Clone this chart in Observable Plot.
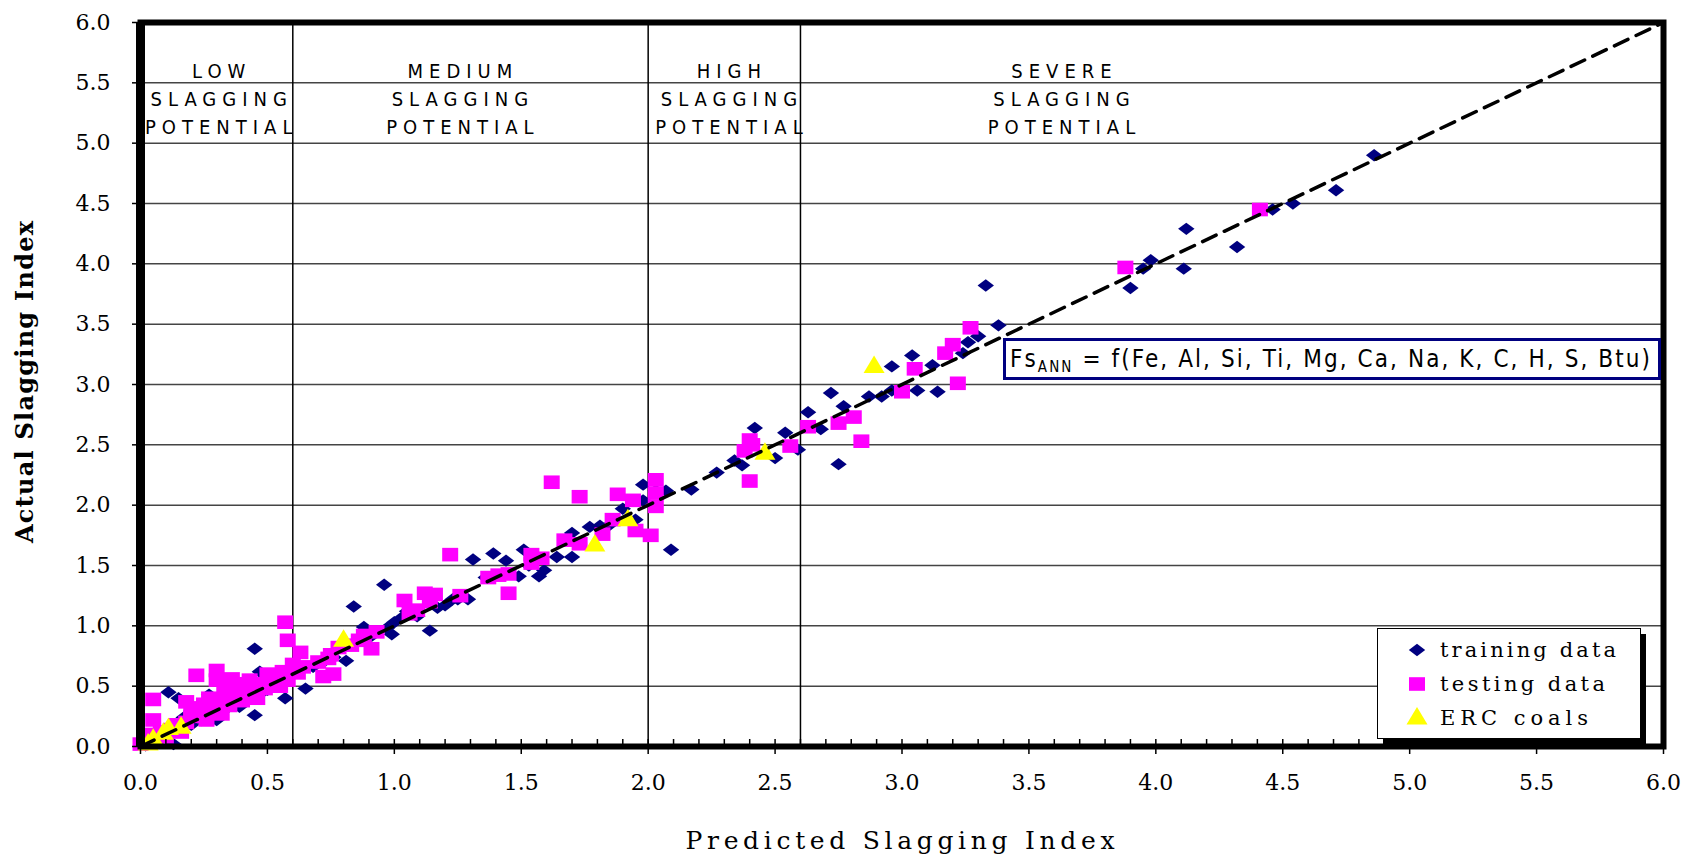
<!DOCTYPE html>
<html>
<head>
<meta charset="utf-8">
<script src="https://cdn.jsdelivr.net/npm/d3@7"></script>
<script src="https://cdn.jsdelivr.net/npm/@observablehq/plot@0.6"></script>
<style>
  html, body { margin: 0; padding: 0; background: #fff; }
  #wrap { position: relative; width: 1694px; height: 859px; overflow: hidden; }
  #wrap > svg { position: absolute; left: 0; top: 0; }
  g[font-family^="'Liberation Sans Narrow'"] text { letter-spacing: 6px; }
</style>
</head>
<body>
<div id="wrap"></div>
<script>
// ---------- data ----------
const xTicks = [0, 0.5, 1, 1.5, 2, 2.5, 3, 3.5, 4, 4.5, 5, 5.5, 6];
const yTicks = [0, 0.5, 1, 1.5, 2, 2.5, 3, 3.5, 4, 4.5, 5, 5.5, 6];
const xMinorTicks = d3.range(0, 61).map(i => i / 10);
const regionBounds = [0.6, 2.0, 2.6];
const regionNames = ["LOW", "MEDIUM", "HIGH", "SEVERE"];
const regionLabelX = [0.32, 1.27, 2.33, 3.64];
const seriesNames = ["training data", "testing data", "ERC coals"];
const seriesColors = ["#000080", "#ff00ff", "#ffff00"];
const diagonal = [0, 6];
const equationMain = "Fs";
const equationSub = "ANN";
const equationRest = " = f(Fe, Al, Si, Ti, Mg, Ca, Na, K, C, H, S, Btu)";
const xTitle = "Predicted Slagging Index";
const yTitle = "Actual Slagging Index";

const trainingData = [
  [0.02,0.01],[0.05,0.04],[0.08,0.06],[0.11,0.45],[0.15,0.40],[0.13,0.02],[0.17,0.24],
  [0.20,0.18],[0.24,0.22],[0.27,0.43],[0.28,0.27],[0.30,0.22],[0.33,0.30],[0.36,0.34],
  [0.39,0.33],[0.42,0.40],[0.45,0.26],[0.45,0.81],[0.47,0.62],[0.48,0.45],[0.50,0.47],
  [0.53,0.52],[0.55,0.58],[0.57,0.40],[0.60,0.60],[0.65,0.48],[0.68,0.66],[0.72,0.70],
  [0.76,0.74],[0.81,0.71],[0.84,1.16],[0.88,0.99],[0.90,0.90],[0.96,1.34],[0.97,0.98],
  [0.99,0.93],[1.00,1.03],[1.03,1.07],[1.05,1.12],[1.09,1.08],[1.14,0.96],[1.17,1.15],
  [1.20,1.17],[1.23,1.22],[1.25,1.22],[1.29,1.22],[1.31,1.55],[1.36,1.40],[1.39,1.60],
  [1.44,1.54],[1.49,1.41],[1.51,1.63],[1.53,1.50],[1.57,1.41],[1.59,1.46],[1.64,1.57],
  [1.70,1.57],[1.70,1.77],[1.77,1.82],[1.81,1.83],[1.85,1.84],[1.90,1.97],[1.95,1.88],
  [1.98,2.17],[1.98,2.04],[2.03,2.12],[2.07,2.12],[2.09,1.63],[2.17,2.13],[2.27,2.27],
  [2.34,2.37],[2.37,2.33],[2.42,2.64],[2.50,2.39],[2.54,2.60],[2.59,2.46],[2.63,2.77],
  [2.68,2.63],[2.72,2.93],[2.75,2.34],[2.77,2.82],[2.87,2.90],[2.92,2.90],[2.96,3.15],
  [2.96,2.95],[3.04,3.24],[3.06,2.95],[3.12,3.16],[3.14,2.94],[3.24,3.26],[3.26,3.35],
  [3.30,3.40],[3.33,3.82],[3.38,3.49],[3.90,3.80],[3.95,3.96],[3.98,4.03],[4.11,3.96],
  [4.12,4.29],[4.32,4.14],[4.46,4.45],[4.54,4.50],[4.71,4.61],[4.86,4.90]
];

const testingData = [
  [0.00,0.02],[0.02,0.05],[0.05,0.39],[0.05,0.22],[0.04,0.10],[0.08,0.12],[0.10,0.08],
  [0.12,0.14],[0.14,0.18],[0.16,0.12],[0.18,0.37],[0.18,0.20],[0.20,0.25],[0.22,0.59],
  [0.22,0.28],[0.24,0.32],[0.25,0.35],[0.26,0.22],[0.28,0.30],[0.30,0.63],[0.30,0.55],
  [0.31,0.38],[0.32,0.27],[0.34,0.42],[0.35,0.34],[0.36,0.56],[0.38,0.45],[0.40,0.38],
  [0.41,0.50],[0.43,0.55],[0.44,0.44],[0.46,0.40],[0.47,0.52],[0.49,0.48],[0.51,0.56],
  [0.53,0.50],[0.54,0.59],[0.56,0.62],[0.57,1.03],[0.58,0.88],[0.58,0.55],[0.60,0.68],
  [0.62,0.61],[0.63,0.78],[0.64,0.66],[0.70,0.70],[0.72,0.58],[0.74,0.73],[0.75,0.76],
  [0.76,0.60],[0.78,0.82],[0.83,0.84],[0.86,0.88],[0.88,0.92],[0.91,0.81],[0.93,0.95],
  [0.27,0.40],[0.33,0.47],[0.39,0.52],[0.45,0.49],[0.50,0.60],[0.55,0.50],[0.20,0.31],
  [1.04,1.21],[1.06,1.10],[1.09,1.13],[1.12,1.27],[1.14,1.20],[1.16,1.26],[1.22,1.59],
  [1.26,1.25],[1.37,1.40],[1.41,1.42],[1.45,1.27],[1.45,1.43],[1.54,1.59],[1.54,1.52],
  [1.58,1.56],[1.62,2.19],[1.67,1.71],[1.73,1.68],[1.73,2.07],[1.82,1.76],[1.86,1.88],
  [1.88,2.09],[1.94,2.04],[1.95,1.79],[2.01,1.75],[2.03,2.21],[2.03,2.10],[2.03,1.99],
  [2.40,2.54],[2.38,2.45],[2.41,2.50],[2.40,2.20],[2.56,2.49],[2.63,2.65],[2.75,2.68],
  [2.81,2.73],[2.84,2.53],[3.00,2.94],[3.05,3.13],[3.17,3.26],[3.20,3.33],[3.22,3.01],
  [3.27,3.47],[3.88,3.97],[4.41,4.45]
];

const ercData = [
  [0.03,0.02],[0.05,0.06],[0.09,0.11],[0.11,0.15],[0.16,0.16],
  [0.80,0.88],[1.79,1.67],[1.92,1.88],[2.46,2.43],[2.89,3.15]
];

// ---------- symbols ----------
const diamondSym = { draw(ctx) { ctx.moveTo(0, -6.2); ctx.lineTo(8.2, 0); ctx.lineTo(0, 6.2); ctx.lineTo(-8.2, 0); ctx.closePath(); } };
const squareSym = { draw(ctx) { ctx.rect(-8, -6.8, 16, 13.6); } };
const triangleSym = { draw(ctx) { ctx.moveTo(0, -11); ctx.lineTo(10.5, 6.5); ctx.lineTo(-10.5, 6.5); ctx.closePath(); } };
const seriesSymbols = [diamondSym, squareSym, triangleSym];

const regions = regionNames.map((name, i) => ({name, x: regionLabelX[i]}));
const serifFont = "'DejaVu Serif', 'Liberation Serif', serif";
const narrowFont = "'Liberation Sans Narrow', 'DejaVu Sans Condensed', 'Liberation Sans', sans-serif";

const chart = Plot.plot({
  width: 1694,
  height: 859,
  marginLeft: 140,
  marginRight: 31,
  marginTop: 22,
  marginBottom: 113,
  style: {fontFamily: serifFont, fontSize: "22px", color: "#000", background: "#fff"},
  x: {domain: [0, 6]},
  y: {domain: [0, 6]},
  marks: [
    Plot.ruleY(yTicks, {stroke: "#444", strokeWidth: 1.5}),
    Plot.ruleX(regionBounds, {stroke: "#000", strokeWidth: 1.5}),
    Plot.dot(trainingData, {x: d => d[0], y: d => d[1], symbol: seriesSymbols[0], fill: seriesColors[0], r: 8}),
    Plot.dot(testingData, {x: d => d[0], y: d => d[1], symbol: seriesSymbols[1], fill: seriesColors[1], r: 8}),
    Plot.dot(ercData, {x: d => d[0], y: d => d[1], symbol: seriesSymbols[2], fill: seriesColors[2], r: 8}),
    Plot.line(diagonal, {x: d => d, y: d => d, stroke: "#000", strokeWidth: 3.5, strokeDasharray: "15,9"}),
    Plot.axisX(xMinorTicks, {tickSize: -7, tickFormat: () => "", label: null, strokeWidth: 1.5}),
    Plot.axisX(xTicks, {tickSize: 8, tickPadding: 20, tickFormat: ".1f", label: null, strokeWidth: 1.5}),
    Plot.axisY(yTicks, {tickSize: 8, tickPadding: 22, tickFormat: ".1f", label: null, strokeWidth: 1.5}),
    Plot.frame({stroke: "#000", strokeWidth: 6}),
    Plot.ruleX([0], {stroke: "#000", strokeWidth: 9}),
    Plot.text(regions, {x: "x", text: d => d.name + "\nSLAGGING\nPOTENTIAL", frameAnchor: "top", dy: 75,
      lineAnchor: "middle", lineHeight: 1.4, fontFamily: narrowFont, fontSize: 20})
  ]
});

const wrap = document.getElementById("wrap");
wrap.appendChild(chart);

// ---------- overlay: titles, equation box and legend ----------
const ov = d3.select(wrap).append("svg")
  .attr("width", 1694).attr("height", 859)
  .style("position", "absolute").style("left", 0).style("top", 0);

ov.append("text").attr("x", 900).attr("y", 849)
  .attr("text-anchor", "middle").attr("font-family", serifFont).attr("font-size", 25)
  .attr("textLength", 429).attr("lengthAdjust", "spacing").text(xTitle);

ov.append("text").attr("transform", "rotate(-90)").attr("x", -382).attr("y", 33)
  .attr("text-anchor", "middle").attr("font-family", serifFont).attr("font-size", 24)
  .attr("font-weight", "bold").attr("textLength", 322).attr("lengthAdjust", "spacing").text(yTitle);

// equation box
ov.append("rect").attr("x", 1004.5).attr("y", 339.5).attr("width", 655).attr("height", 39)
  .attr("fill", "#fff").attr("stroke", "#000080").attr("stroke-width", 3);
const eq = ov.append("text").attr("x", 1010).attr("y", 367)
  .attr("font-family", narrowFont).attr("font-size", 24).attr("fill", "#000")
  .attr("textLength", 640).attr("lengthAdjust", "spacing");
eq.append("tspan").text(equationMain);
eq.append("tspan").attr("dy", 5).attr("font-size", 15).text(equationSub);
eq.append("tspan").attr("dy", -5).text(equationRest);

// legend
ov.append("rect").attr("x", 1383).attr("y", 634).attr("width", 263).attr("height", 110).attr("fill", "#000");
ov.append("rect").attr("x", 1377.5).attr("y", 628.5).attr("width", 263).attr("height", 110)
  .attr("fill", "#fff").attr("stroke", "#000").attr("stroke-width", 1);
seriesNames.forEach((name, i) => {
  const cy = 650 + i * 34;
  ov.append("path").attr("transform", `translate(1417,${cy})`)
    .attr("d", d3.symbol(seriesSymbols[i])()).attr("fill", seriesColors[i]);
  ov.append("text").attr("x", 1440).attr("y", cy + 7)
    .attr("font-family", serifFont).attr("font-size", 21)
    .attr("textLength", [176, 165, 148][i]).attr("lengthAdjust", "spacing")
    .text(name);
});
</script>
</body>
</html>
